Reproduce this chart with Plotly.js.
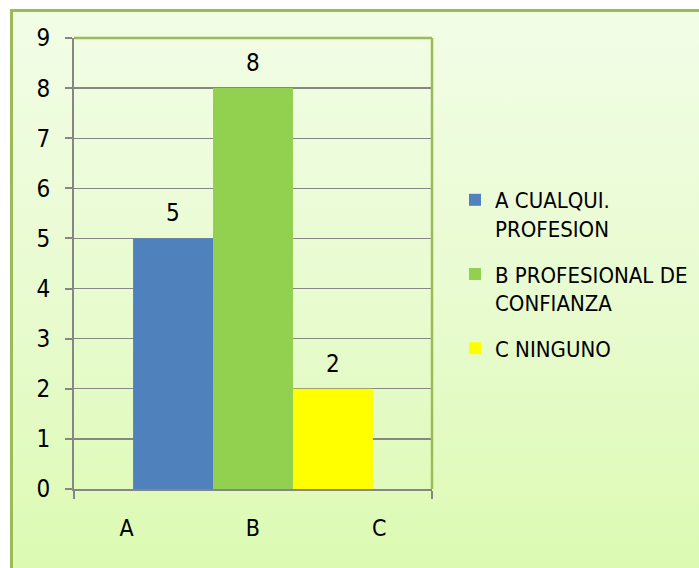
<!DOCTYPE html>
<html>
<head>
<meta charset="utf-8">
<script src="https://cdn.plot.ly/plotly-3.0.1.min.js"></script>
<style>
  html, body { margin: 0; padding: 0; background: #ffffff; }
  #wrap { position: relative; width: 699px; height: 568px; overflow: hidden; }
  #frame { position: absolute; left: 10px; top: 9px; width: 720px; height: 600px;
           border: 3px solid #9BBB59; box-sizing: border-box;
           background: linear-gradient(to bottom, #F2FDE6 0%, #E8FBCF 50%, #DAFAAE 100%); }
  #chart { position: absolute; left: 0; top: 0; width: 699px; height: 568px; }
</style>
</head>
<body>
<div id="wrap">
  <div id="frame"></div>
  <div id="chart"></div>
</div>
<script>
// ---- data ----
var tickLabels = ["A", "B", "C"];
var seriesNames = ["A CUALQUI.<br>PROFESION", "B PROFESIONAL DE<br>CONFIANZA", "C NINGUNO"];
var seriesValues = [5, 8, 2];
var seriesColors = ["#4F81BD", "#92D050", "#FFFF00"];

// single category whose label spells out A, B, C across the axis
var category = tickLabels.join("\u2003\u2003\u2003\u2003\u2003\u2005\u2006");

var FONT = "Liberation Sans Narrow, Arial Narrow, DejaVu Sans Condensed, sans-serif";
var W = 699, H = 568;
var margin = {l: 74, r: 267, t: 38, b: 79};
var bargap = 0.33;
var plotW = W - margin.l - margin.r;
var barPx = plotW * (1 - bargap) / seriesValues.length;

var traces = seriesValues.map(function (v, i) {
  return {
    type: "bar",
    x: [category],
    y: [v],
    name: seriesNames[i],
    legendgroup: "g" + i,
    marker: {color: seriesColors[i], line: {width: 0}},
    hoverinfo: "none"
  };
});

var annotations = seriesValues.map(function (v, i) {
  return {
    x: category, y: v, xref: "x", yref: "y",
    text: String(v), showarrow: false,
    xshift: (i - (seriesValues.length - 1) / 2) * barPx,
    yshift: 25,
    font: {family: FONT, size: 24, color: "#000000"}
  };
});

var layout = {
  width: W, height: H,
  margin: margin,
  paper_bgcolor: "rgba(0,0,0,0)",
  plot_bgcolor: "rgba(0,0,0,0)",
  barmode: "group",
  bargap: bargap,
  bargroupgap: 0,
  showlegend: true,
  font: {family: FONT, size: 23, color: "#000000"},
  xaxis: {
    type: "category",
    showgrid: false,
    showline: true, linecolor: "#868686", linewidth: 2,
    ticks: "outside", tickson: "boundaries", ticklen: 8, tickcolor: "#868686", tickwidth: 2,
    tickfont: {family: FONT, size: 23, color: "#000000"},
    ticklabelstandoff: 17,
    fixedrange: true
  },
  yaxis: {
    range: [0, 9],
    dtick: 1, tick0: 0,
    showgrid: true, gridcolor: "#868686", gridwidth: 1.3,
    zeroline: false,
    showline: true, linecolor: "#868686", linewidth: 2,
    ticks: "outside", ticklen: 7, tickcolor: "#868686", tickwidth: 2,
    tickfont: {family: FONT, size: 24, color: "#000000"},
    ticklabelstandoff: 10,
    fixedrange: true
  },
  legend: {
    xref: "container", yref: "container",
    x: 455 / W, y: 1 - 179 / H,
    xanchor: "left", yanchor: "top",
    bgcolor: "rgba(0,0,0,0)",
    font: {family: FONT, size: 22, color: "#000000"},
    valign: "top",
    traceorder: "grouped",
    tracegroupgap: 14,
    itemclick: false, itemdoubleclick: false
  },
  shapes: [
    {type: "line", xref: "paper", yref: "paper", x0: 0, x1: 1, y0: 1, y1: 1,
     line: {color: "#9BBB59", width: 2.5}, layer: "above"},
    {type: "line", xref: "paper", yref: "paper", x0: 1, x1: 1, y0: 0, y1: 1,
     line: {color: "#9BBB59", width: 2.5}, layer: "above"}
  ],
  annotations: annotations
};

Plotly.newPlot("chart", traces, layout, {displayModeBar: false, staticPlot: true});
</script>
</body>
</html>
